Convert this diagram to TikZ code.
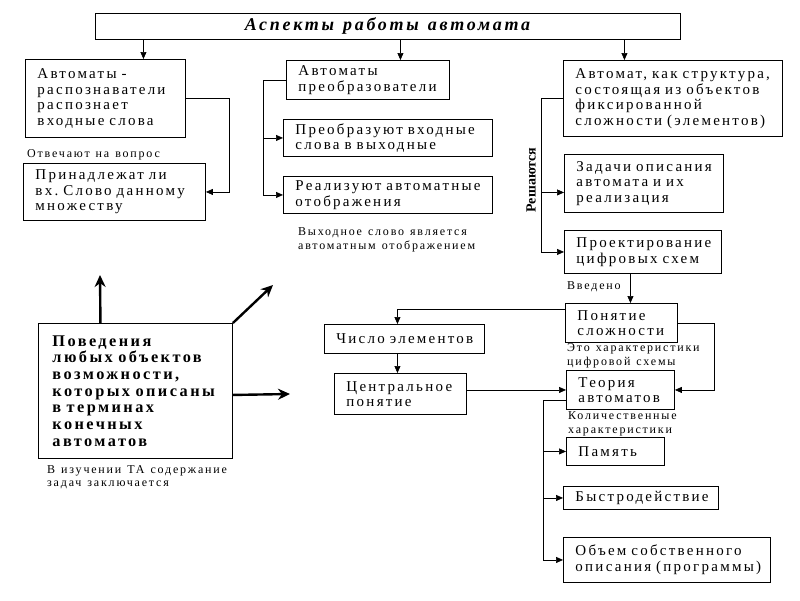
\documentclass[tikz,border=0pt]{standalone}
\usepackage{fontspec}
\setmainfont{Liberation Serif}
\newfontfamily\razr[LetterSpace=15,WordSpace=1.25]{Liberation Serif}
\usetikzlibrary{arrows.meta}
\newcommand\tekst{\razr\fontsize{15}{15.5}\selectfont}
\newcommand\melko{\razr\fontsize{12}{13.5}\selectfont}
\newcommand\krupno{\razr\bfseries\fontsize{16.3}{16.7}\selectfont}
\newcommand\zagl{\razr\bfseries\itshape\fontsize{18}{20}\selectfont}
\tikzset{
  blok/.style={draw, line width=0.9pt, anchor=north west, align=left, inner xsep=12pt, inner ysep=2pt, font=\tekst},
  zametka/.style={anchor=west, align=left, inner sep=0pt, font=\melko},
  strelka/.style={line width=0.7pt, -{Triangle[length=7pt,width=6pt]}},
  tolstaya/.style={line width=2.4pt, -{Stealth[length=12pt,width=11pt]}}
}
\begin{document}
\begin{tikzpicture}[x=1pt, y=-1pt]
  \useasboundingbox (0,0) rectangle (800,600);

  \node[draw, line width=0.9pt, minimum width=585pt, minimum height=26pt, font=\zagl] (title) at (387.5,26) {Аспекты работы автомата};

  \node[blok, text width=136pt, minimum height=78pt] (b1) at (25,59) {Автоматы~-\\распознаватели\\распознает\\входные~слова};
  \node[blok, text width=158pt, minimum height=57pt] (b2) at (23,163) {Принадлежат~ли\\вх.~Слово~данному\\множеству};
  \node[zametka] (n1) at (27,155) {Отвечают на вопрос};

  \node[blok, text width=139pt, minimum height=39pt] (m1) at (286,60) {Автоматы\\преобразователи};
  \node[blok, text width=185pt, minimum height=37pt] (m2) at (283,119) {Преобразуют~входные\\слова~в~выходные};
  \node[blok, text width=185pt, minimum height=37pt] (m3) at (283,176) {Реализуют~автоматные\\отображения};
  \node[zametka] (n2) at (298,240) {Выходное слово является\\автоматным отображением};

  \node[blok, text width=195pt, minimum height=76pt] (r1) at (563,60) {Автомат,~как~структура,\\состоящая~из~объектов\\фиксированной\\сложности~(элементов)};
  \node[blok, text width=135pt, minimum height=58pt] (r2) at (564,154) {Задачи~описания\\автомата~и~их\\реализация};
  \node[blok, text width=133pt, minimum height=43pt] (r3) at (564,230) {Проектирование\\цифровых~схем};
  \node[rotate=90, inner sep=0pt, font=\bfseries\fontsize{14}{16}\selectfont] (resh) at (531,180) {Решаются};
  \node[zametka] (n5) at (567,287) {Введено};

  \node[blok, text width=88pt, minimum height=39pt] (p) at (565,303) {Понятие\\сложности};
  \node[zametka] (n3) at (567,356) {Это характеристики\\цифровой схемы};
  \node[blok, text width=136pt, minimum height=29pt] (c) at (324,324) {Число~элементов};
  \node[blok, text width=108pt, minimum height=41pt] (z) at (334,373) {Центральное\\понятие};
  \node[blok, text width=84pt, minimum height=39pt] (t) at (566,370) {Теория\\автоматов};
  \node[zametka] (n4) at (568,424) {Количественные\\характеристики};

  \node[blok, text width=74pt, minimum height=28pt] (pm) at (566,437) {Память};
  \node[blok, text width=131pt, minimum height=23pt] (bs) at (563,486) {Быстродействие};
  \node[blok, text width=183pt, minimum height=45pt] (o) at (563,537) {Объем~собственного\\описания~(программы)};

  \node[blok, inner xsep=14pt, text width=166pt, minimum height=135pt, font=\krupno] (big) at (38,323) {Поведения\\любых~объектов\\возможности,\\которых~описаны\\в~терминах\\конечных\\автоматов};
  \node[zametka] (n6) at (47,477) {В изучении ТА содержание\\задач заключается};

  \coordinate (k1) at (100,275);
  \coordinate (k2) at (273,285);
  \coordinate (k3) at (290,394);
  \coordinate (r2v) at ([yshift=-9pt]r2.west);

  \draw[strelka] ([xshift=38pt]b1.north |- title.south) -- ([xshift=38pt]b1.north);
  \draw[strelka] ([xshift=32.5pt]m1.north |- title.south) -- ([xshift=32.5pt]m1.north);
  \draw[strelka] ([xshift=-48.5pt]r1.north |- title.south) -- ([xshift=-48.5pt]r1.north);

  \draw[strelka] (b1.east) -- ++(43,0) |- (b2.east);
  \draw[strelka] (m1.west) -- ++(-23,0) coordinate (shinam) |- (m3.west);
  \draw[strelka] (shinam |- m2.west) -- (m2.west);
  \draw[strelka] (r1.west) -- ++(-22,0) coordinate (shinar) |- (r3.west);
  \draw[strelka] (shinar |- r2v) -- (r2v);

  \draw[strelka] ([xshift=9pt]p.north |- r3.south) -- ([xshift=9pt]p.north);
  \draw[strelka] ([yshift=14pt]p.west) -| ([xshift=-7pt]c.north);
  \draw[strelka] ([xshift=-7pt]c.south) -- ([xshift=-7pt]c.south |- z.north);
  \draw[strelka] (t.west -| z.east) -- (t.west);
  \draw[strelka] (p.east) -- ++(36,0) |- (t.east);

  \draw[strelka] ([yshift=-10pt]t.west) -- ++(-23,0) coordinate (shinat) |- (o.west);
  \draw[strelka] (shinat |- pm.west) -- (pm.west);
  \draw[strelka] (shinat |- bs.west) -- (bs.west);

  \draw[tolstaya] ([xshift=-35pt]big.north) -- (k1);
  \draw[tolstaya] (big.north east) -- (k2);
  \draw[tolstaya] ([yshift=-4pt]big.east) -- (k3);
\end{tikzpicture}
\end{document}
